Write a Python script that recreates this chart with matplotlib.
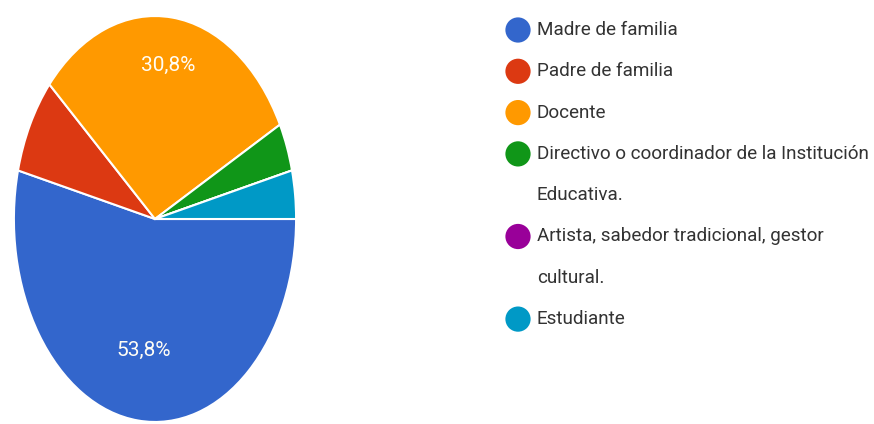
import matplotlib
matplotlib.use("Agg")
import matplotlib.pyplot as plt

# Survey answers (26 responses)
categories = ["Madre de familia", "Padre de familia", "Docente",
              "Directivo o coordinador de la Institución\nEducativa.",
              "Artista, sabedor tradicional, gestor\ncultural.",
              "Estudiante"]
counts = [14, 2, 8, 1, 0, 1]
colors = ["#3366cc", "#dc3912", "#ff9900", "#109618", "#990099", "#0099c6"]

FONT = ["Roboto", "DejaVu Sans"]


def pct_label(p):
    # Google Forms only labels the bigger slices, with a decimal comma
    if p < 10:
        return ""
    return f"{p:.1f}%".replace(".", ",")


fig = plt.figure(figsize=(8.74, 4.24), dpi=100)
fig.patch.set_facecolor("white")

# Pie (the source picture is squeezed horizontally, so aspect is auto)
ax = fig.add_axes([12.5 / 874, 0.0, 285 / 874, 410 / 424])
wedges, texts, autotexts = ax.pie(
    counts, colors=colors, startangle=0, counterclock=False,
    autopct=pct_label, pctdistance=0.7,
    wedgeprops=dict(edgecolor="white", linewidth=1.5),
    textprops=dict(color="#fffdf5", fontsize=15, family=FONT))
ax.set_xlim(-1.01, 1.01)
ax.set_ylim(-1.01, 1.01)
ax.set_aspect("auto")

# the big label sits a bit closer to the centre, the orange one further out
for t, k in zip(autotexts, [0.93, 1, 1.09, 1, 1, 1]):
    x, y = t.get_position()
    t.set_position((x * k, y * k))

# Legend drawn by hand so the dot sits on the first line of wrapped labels
lax = fig.add_axes([0, 0, 1, 1])
lax.set_xlim(0, 874)
lax.set_ylim(424, 0)
lax.axis("off")

y = 30
line_step = 41.3
for label, color in zip(categories, colors):
    lax.scatter([518], [y], s=330, color=color, marker="o", edgecolors="none")
    lines = label.split("\n")
    for i, line in enumerate(lines):
        lax.text(537, y + i * line_step, line, va="center", ha="left",
                 fontsize=13.6, color="#333333", family=FONT)
    y += line_step * len(lines)

fig.savefig("out.png", dpi=100, facecolor="white")
